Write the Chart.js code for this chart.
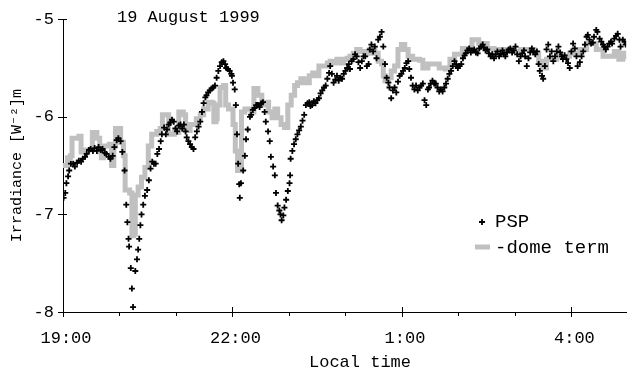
<!DOCTYPE html>
<html><head><meta charset="utf-8">
<script src="https://cdn.jsdelivr.net/npm/chart.js@4.4.0/dist/chart.umd.min.js"></script>
<style>html,body{margin:0;padding:0;background:#fff;overflow:hidden}#wrap{width:632px;height:373px;position:relative}</style>
</head><body><div id="wrap"><canvas id="c" width="632" height="373"></canvas></div>
<script>
const pspHours = [
19.01,19.04,19.06,19.09,19.11,19.14,19.18,19.21,19.25,19.28,
19.32,19.35,19.39,19.42,19.46,19.49,19.53,19.56,19.60,19.63,
19.67,19.70,19.74,19.77,19.81,19.84,19.88,19.91,19.95,19.98,
20.02,20.05,20.09,20.12,20.14,20.16,20.17,20.20,20.22,20.24,
20.28,20.31,20.33,20.35,20.37,20.39,20.42,20.45,20.49,20.52,
20.55,20.58,20.61,20.64,20.67,20.70,20.73,20.75,20.79,20.82,
20.84,20.87,20.90,20.93,20.96,20.99,21.02,21.05,21.08,21.11,
21.14,21.17,21.19,21.22,21.25,21.28,21.31,21.34,21.37,21.40,
21.43,21.46,21.49,21.52,21.54,21.57,21.60,21.63,21.66,21.69,
21.72,21.75,21.78,21.81,21.84,21.87,21.89,21.92,21.95,21.98,
21.99,22.01,22.04,22.06,22.08,22.10,22.12,22.13,22.15,22.19,
22.22,22.24,22.27,22.31,22.33,22.36,22.39,22.42,22.45,22.48,
22.51,22.54,22.57,22.59,22.63,22.66,22.68,22.72,22.75,22.77,
22.80,22.83,22.85,22.87,22.90,22.92,22.95,22.98,23.01,23.02,
23.03,23.06,23.09,23.12,23.15,23.18,23.21,23.24,23.27,23.30,
23.33,23.36,23.38,23.41,23.44,23.47,23.50,23.53,23.56,23.59,
23.62,23.65,23.68,23.71,23.73,23.76,23.79,23.82,23.85,23.88,
23.91,23.94,23.97,24.00,24.03,24.06,24.08,24.11,24.14,24.17,
24.20,24.23,24.26,24.29,24.32,24.35,24.38,24.41,24.43,24.46,
24.49,24.52,24.55,24.58,24.61,24.64,24.67,24.70,24.73,24.76,
24.78,24.81,24.84,24.87,24.90,24.93,24.96,24.99,25.02,25.05,
25.08,25.11,25.13,25.16,25.19,25.22,25.25,25.28,25.31,25.34,
25.37,25.40,25.43,25.46,25.48,25.51,25.54,25.57,25.60,25.63,
25.66,25.69,25.72,25.75,25.78,25.81,25.84,25.87,25.90,25.93,
25.96,25.99,26.02,26.05,26.08,26.11,26.13,26.16,26.19,26.22,
26.25,26.28,26.31,26.34,26.37,26.40,26.43,26.45,26.48,26.51,
26.54,26.57,26.60,26.63,26.66,26.69,26.72,26.75,26.78,26.80,
26.83,26.86,26.89,26.92,26.95,26.98,27.01,27.04,27.07,27.10,
27.13,27.16,27.18,27.21,27.24,27.27,27.30,27.33,27.36,27.39,
27.42,27.44,27.48,27.50,27.53,27.56,27.59,27.62,27.65,27.68,
27.71,27.74,27.77,27.80,27.83,27.85,27.88,27.91,27.94,27.97,
28.00,28.03,28.06,28.09,28.11,28.15,28.18,28.21,28.24,28.27,
28.29,28.32,28.35,28.38,28.40,28.44,28.46,28.50,28.53,28.56,
28.58,28.61,28.64,28.67,28.70,28.72,28.76,28.79,28.82,28.85,
28.87,28.91,28.94,28.96];
const pspValues = [
-6.83,-6.78,-6.68,-6.61,-6.55,-6.48,-6.48,-6.51,-6.47,-6.45,
-6.46,-6.43,-6.41,-6.38,-6.34,-6.33,-6.35,-6.32,-6.35,-6.31,
-6.34,-6.33,-6.37,-6.38,-6.41,-6.43,-6.40,-6.31,-6.24,-6.22,
-6.25,-6.36,-6.55,-6.90,-7.08,-7.25,-7.33,-7.55,-7.76,-7.95,
-7.58,-7.46,-7.36,-7.25,-7.11,-7.00,-6.90,-6.81,-6.75,-6.65,
-6.53,-6.46,-6.48,-6.48,-6.38,-6.33,-6.25,-6.18,-6.11,-6.18,
-6.13,-6.08,-6.06,-6.03,-6.05,-6.12,-6.15,-6.09,-6.08,-6.12,
-6.08,-6.15,-6.21,-6.25,-6.28,-6.31,-6.33,-6.21,-6.15,-6.10,
-6.05,-5.95,-5.86,-5.80,-5.78,-5.75,-5.73,-5.71,-5.70,-5.68,
-5.60,-5.53,-5.48,-5.44,-5.43,-5.46,-5.50,-5.51,-5.53,-5.56,
-5.58,-5.65,-5.72,-5.88,-6.18,-6.48,-6.69,-6.83,-6.68,-6.55,
-6.40,-6.23,-6.13,-6.00,-5.98,-5.93,-5.91,-5.88,-5.88,-5.90,
-5.86,-5.85,-5.95,-6.05,-6.15,-6.25,-6.41,-6.51,-6.60,-6.78,
-6.91,-6.96,-7.00,-7.06,-7.01,-6.93,-6.85,-6.76,-6.68,-6.60,
-6.43,-6.35,-6.28,-6.23,-6.18,-6.14,-6.10,-6.04,-5.98,-5.88,
-5.86,-5.85,-5.89,-5.88,-5.84,-5.86,-5.83,-5.81,-5.76,-5.73,
-5.70,-5.68,-5.61,-5.55,-5.48,-5.56,-5.65,-5.62,-5.58,-5.63,
-5.60,-5.61,-5.56,-5.53,-5.50,-5.46,-5.51,-5.43,-5.41,-5.36,
-5.38,-5.44,-5.50,-5.43,-5.38,-5.38,-5.48,-5.46,-5.31,-5.26,
-5.33,-5.28,-5.40,-5.21,-5.18,-5.13,-5.28,-5.46,-5.60,-5.65,
-5.70,-5.81,-5.73,-5.70,-5.75,-5.64,-5.58,-5.56,-5.53,-5.50,
-5.45,-5.43,-5.51,-5.60,-5.68,-5.72,-5.68,-5.73,-5.70,-5.68,
-5.66,-5.83,-5.88,-5.72,-5.70,-5.66,-5.63,-5.66,-5.66,-5.70,
-5.74,-5.72,-5.74,-5.70,-5.66,-5.61,-5.56,-5.53,-5.48,-5.43,
-5.46,-5.50,-5.48,-5.46,-5.40,-5.37,-5.35,-5.32,-5.30,-5.34,
-5.32,-5.31,-5.34,-5.35,-5.30,-5.28,-5.26,-5.29,-5.32,-5.31,
-5.35,-5.38,-5.36,-5.40,-5.36,-5.33,-5.38,-5.35,-5.32,-5.36,
-5.38,-5.34,-5.31,-5.30,-5.34,-5.32,-5.28,-5.36,-5.43,-5.38,
-5.35,-5.32,-5.38,-5.48,-5.40,-5.34,-5.30,-5.33,-5.36,-5.33,
-5.46,-5.53,-5.58,-5.61,-5.48,-5.31,-5.26,-5.38,-5.33,-5.43,
-5.38,-5.33,-5.28,-5.34,-5.38,-5.41,-5.37,-5.41,-5.45,-5.50,
-5.33,-5.25,-5.30,-5.38,-5.48,-5.44,-5.38,-5.33,-5.26,-5.18,
-5.16,-5.21,-5.25,-5.24,-5.18,-5.11,-5.13,-5.20,-5.23,-5.26,
-5.28,-5.31,-5.28,-5.25,-5.23,-5.25,-5.20,-5.17,-5.15,-5.21,
-5.28,-5.21,-5.23,-5.26];
const domeHours = [
19.00,19.08,19.13,19.16,19.28,19.32,19.40,19.52,19.60,19.65,
19.68,19.72,19.82,19.86,19.90,19.93,19.99,20.02,20.07,20.10,
20.18,20.22,20.25,20.28,20.33,20.39,20.45,20.51,20.57,20.66,
20.72,20.76,20.84,20.87,20.97,21.05,21.13,21.17,21.25,21.36,
21.43,21.49,21.57,21.64,21.67,21.71,21.73,21.78,21.84,21.88,
21.93,21.98,22.01,22.05,22.09,22.14,22.16,22.22,22.33,22.38,
22.45,22.52,22.61,22.64,22.70,22.75,22.80,22.86,22.92,22.98,
23.04,23.10,23.15,23.21,23.27,23.36,23.42,23.47,23.53,23.62,
23.68,23.73,23.79,23.85,23.91,23.97,24.03,24.08,24.14,24.20,
24.26,24.32,24.38,24.43,24.52,24.58,24.64,24.67,24.70,24.76,
24.81,24.87,24.93,24.99,25.05,25.11,25.19,25.31,25.37,25.46,
25.57,25.66,25.77,25.85,25.93,26.07,26.24,26.36,26.51,26.63,
26.86,27.10,27.34,27.42,27.48,27.56,27.74,27.97,28.15,28.27,
28.44,28.56,28.72,28.76,28.84,28.91,28.97];
const domeValues = [
-6.50,-6.42,-6.40,-6.22,-6.20,-6.36,-6.34,-6.16,-6.22,-6.36,
-6.42,-6.30,-6.28,-6.50,-6.30,-6.12,-6.12,-6.26,-6.40,-6.75,
-6.78,-7.22,-7.20,-6.80,-6.72,-6.62,-6.52,-6.30,-6.18,-6.15,
-6.12,-5.98,-5.98,-6.18,-6.16,-5.95,-5.98,-6.14,-6.08,-6.02,
-5.98,-5.92,-5.85,-5.86,-6.05,-6.02,-5.88,-5.70,-5.68,-5.88,
-5.92,-5.92,-6.08,-6.35,-6.55,-6.50,-5.95,-5.92,-5.95,-5.71,
-5.78,-5.88,-5.85,-5.95,-6.01,-5.92,-6.01,-6.08,-6.11,-5.88,
-5.78,-5.68,-5.65,-5.61,-5.65,-5.58,-5.55,-5.58,-5.48,-5.48,
-5.45,-5.43,-5.45,-5.41,-5.45,-5.41,-5.40,-5.38,-5.35,-5.31,
-5.33,-5.33,-5.35,-5.31,-5.35,-5.43,-5.46,-5.58,-5.63,-5.60,
-5.53,-5.48,-5.31,-5.26,-5.31,-5.38,-5.41,-5.42,-5.50,-5.46,
-5.46,-5.50,-5.51,-5.41,-5.36,-5.30,-5.21,-5.25,-5.30,-5.31,
-5.33,-5.31,-5.35,-5.43,-5.50,-5.41,-5.38,-5.35,-5.31,-5.25,
-5.31,-5.38,-5.38,-5.33,-5.41,-5.35,-5.41];
const xTickHours = [19, 22, 25, 28];
const xMinorHours = [20, 21, 23, 24, 26, 27];
const yTicks = [-8, -7, -6, -5];
const seriesNames = ['PSP', '-dome term'];
const titleText = '19 August 1999';
const xTitle = 'Local time';
const yTitle = 'Irradiance [W\u207B\u00B2]m';

const FONT = '"Liberation Mono", "Courier New", monospace';
const GRAY = '#c0c0c0';

const decor = {
  id: 'decor',
  afterDraw(chart) {
    const {ctx, chartArea: a, scales: {x, y}} = chart;
    ctx.save();
    ctx.strokeStyle = '#000'; ctx.lineWidth = 1;
    ctx.beginPath();
    xTickHours.forEach(h => { const px = Math.round(x.getPixelForValue(h)) + 0.5; ctx.moveTo(px, a.bottom - 5); ctx.lineTo(px, a.bottom + 5); });
    xMinorHours.forEach(h => { const px = Math.round(x.getPixelForValue(h)) + 0.5; ctx.moveTo(px, a.bottom); ctx.lineTo(px, a.bottom + 4); });
    yTicks.forEach(v => { const py = Math.round(y.getPixelForValue(v)) + 0.5; ctx.moveTo(a.left - 5, py); ctx.lineTo(a.left + 4, py); });
    ctx.stroke();
    ctx.fillStyle = '#000';
    ctx.textBaseline = 'middle';
    ctx.font = '17px ' + FONT;
    ctx.textAlign = 'left';
    ctx.fillText(titleText, a.left + 54, 17);
    ctx.textAlign = 'center';
    ctx.fillText(xTitle, a.left + 297, 362);
    // legend
    ctx.font = '19px ' + FONT;
    ctx.textAlign = 'left';
    const lx = a.left + 412;
    ctx.lineWidth = 1.8;
    ctx.beginPath();
    ctx.moveTo(lx + 7 - 3, 222); ctx.lineTo(lx + 7 + 3, 222);
    ctx.moveTo(lx + 7, 219); ctx.lineTo(lx + 7, 225);
    ctx.stroke();
    ctx.fillText(seriesNames[0], lx + 20, 222);
    ctx.strokeStyle = GRAY; ctx.lineWidth = 5;
    ctx.beginPath(); ctx.moveTo(lx, 247); ctx.lineTo(lx + 15, 247); ctx.stroke();
    ctx.fillText(seriesNames[1], lx + 20, 248);
    ctx.restore();
  }
};

new Chart(document.getElementById('c'), {
  type: 'scatter',
  data: {
    datasets: [
      {
        label: seriesNames[0], order: 0,
        data: pspHours.map((h, i) => ({x: h, y: pspValues[i]})),
        pointStyle: 'cross', pointRadius: 3, pointBorderWidth: 1.8,
        borderColor: '#000', backgroundColor: '#000', showLine: false
      },
      {
        label: seriesNames[1], order: 1, type: 'line',
        data: domeHours.map((h, i) => ({x: h, y: domeValues[i]})),
        stepped: true, borderColor: GRAY, borderWidth: 5, pointRadius: 0, fill: false
      }
    ]
  },
  options: {
    responsive: false, animation: false, devicePixelRatio: 1,
    layout: {padding: {top: 12, right: 0, left: 0, bottom: 0}},
    plugins: {legend: {display: false}, tooltip: {enabled: false}},
    scales: {
      x: {
        type: 'linear', min: 19, max: 28.97,
        afterBuildTicks: s => { s.ticks = xTickHours.map(v => ({value: v})); },
        afterFit: s => { s.height = 61; },
        grid: {display: false, drawTicks: false},
        border: {display: true, color: '#000', width: 1},
        ticks: {
          callback: v => (v % 24) + ':00',
          font: {family: FONT, size: 17}, color: '#000', padding: 16, labelOffset: 3,
          maxRotation: 0, autoSkip: false
        }
      },
      y: {
        min: -8, max: -5,
        afterBuildTicks: s => { s.ticks = yTicks.map(v => ({value: v})); },
        afterFit: s => { s.width = 63; },
        grid: {display: false, drawTicks: false},
        border: {display: true, color: '#000', width: 1},
        ticks: {callback: v => String(v), font: {family: FONT, size: 17}, color: '#000', padding: 9},
        title: {display: true, text: yTitle, font: {family: FONT, size: 15}, color: '#000', padding: {top: 8, bottom: 0}}
      }
    }
  },
  plugins: [decor]
});
</script>
</body></html>
